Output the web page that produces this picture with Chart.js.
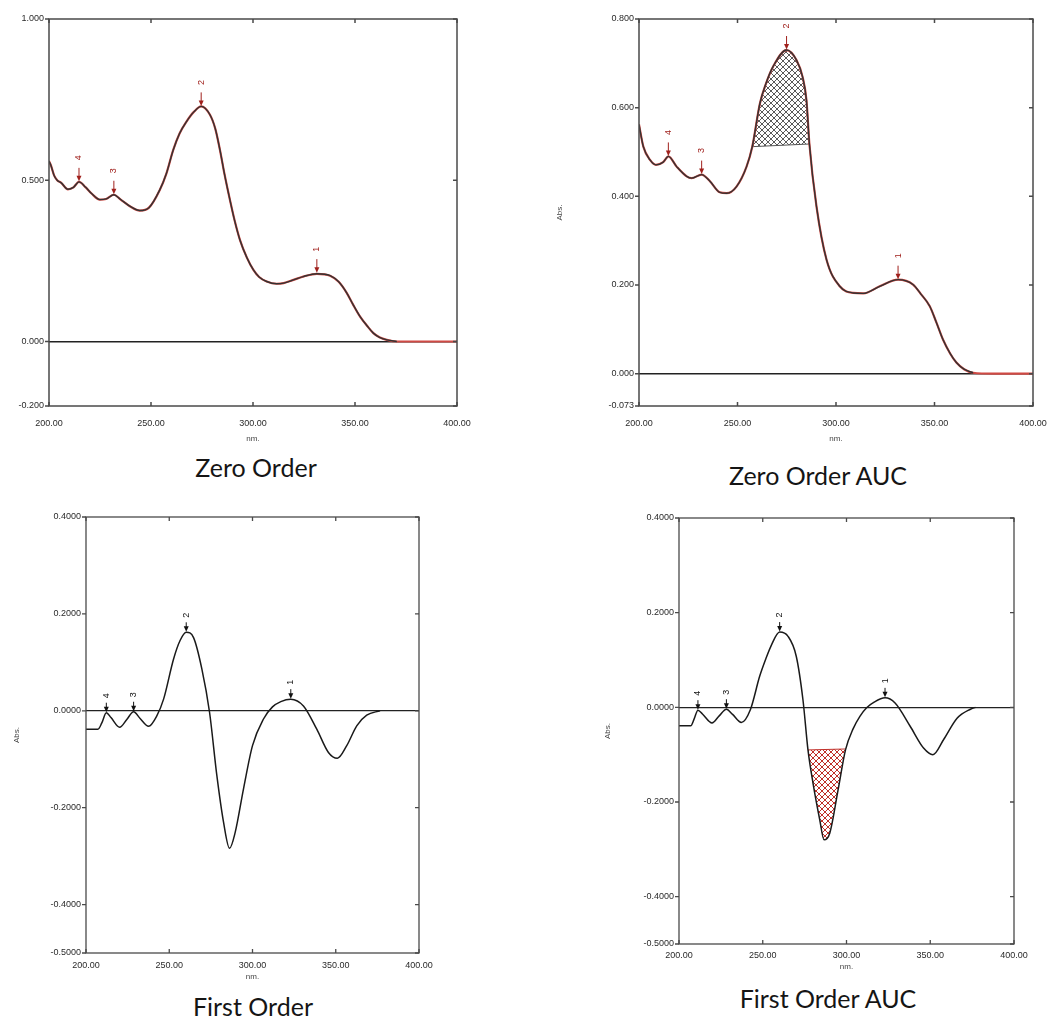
<!DOCTYPE html>
<html>
<head>
<meta charset="utf-8">
<script src="https://cdn.jsdelivr.net/npm/chart.js@4.4.0/dist/chart.umd.min.js"></script>
<style>
  body { margin: 0; background: #fff; width: 1050px; height: 1023px; position: relative; overflow: hidden; }
  .box { position: absolute; }
  .cap { position: absolute; font-family: Lato, "Open Sans", sans-serif; font-size: 25px; color: #151515;
         transform: translate(-50%, -50%); white-space: nowrap; }
</style>
</head>
<body>
<div class="box" id="b1" style="left:0px;top:7px;width:485px;height:437px"><canvas id="c1"></canvas></div>
<div class="box" id="b2" style="left:555px;top:7px;width:495px;height:437px"><canvas id="c2"></canvas></div>
<div class="box" id="b3" style="left:12px;top:505px;width:435px;height:477px"><canvas id="c3"></canvas></div>
<div class="box" id="b4" style="left:603px;top:506px;width:441px;height:466px"><canvas id="c4"></canvas></div>

<div class="cap" style="left:256px;top:467px">Zero Order</div>
<div class="cap" style="left:818px;top:475px">Zero Order AUC</div>
<div class="cap" style="left:253px;top:1006px">First Order</div>
<div class="cap" style="left:828px;top:998px">First Order AUC</div>

<script>
// axis ticks
const nmTicks = [200, 250, 300, 350, 400];
const zeroTicks = [-0.2, 0, 0.5, 1.0];
const zeroAucTicks = [-0.073, 0, 0.2, 0.4, 0.6, 0.8];
const firstTicks = [-0.5, -0.4, -0.2, 0, 0.2, 0.4];
const peakLabels = ['1', '2', '3', '4'];

// zero order spectrum
const zeroNm = [200, 201, 202.5, 204, 206, 209.3, 212, 214.7, 218, 221, 224.9, 228, 231.8, 235, 240, 244.5,
  249, 254.3, 257.5, 260.9, 264, 267.4, 271, 274.6, 278.9, 281.5, 283.8, 286, 288.7, 291, 293.6, 297, 300.2,
  303, 306.7, 311.6, 315, 319.8, 325, 331.3, 337.8, 342, 346, 349, 352.5, 356, 359, 362, 365.6, 370.5, 380, 390, 400];
const zeroAbs = [0.560, 0.545, 0.515, 0.500, 0.492, 0.472, 0.478, 0.495, 0.478, 0.458, 0.440, 0.442, 0.455, 0.441,
  0.418, 0.406, 0.415, 0.470, 0.520, 0.594, 0.645, 0.682, 0.712, 0.729, 0.703, 0.660, 0.594, 0.520, 0.439, 0.375,
  0.315, 0.260, 0.222, 0.200, 0.186, 0.179, 0.181, 0.191, 0.202, 0.210, 0.204, 0.185, 0.150, 0.115, 0.077, 0.048,
  0.026, 0.013, 0.005, 0.0, 0, 0, 0];
const zeroPeakNm = [331.3, 274.6, 231.8, 214.7];
const zeroPeakAbs = [0.212, 0.729, 0.455, 0.495];

// zero order AUC spectrum
const aucNm = [200, 202.2, 205.6, 208.6, 212.3, 214.9, 219.1, 224.2, 226.7, 231.8, 236, 241, 244.5, 249.5, 254.6,
  257.5, 261.4, 264.5, 268.1, 274.9, 280, 283, 285, 286.5, 290.1, 295.2, 301.9, 308.7, 313.8, 322.2, 331.5, 339.1,
  343, 347.6, 351, 354.3, 358, 361.1, 365, 369.6, 380, 400];
const aucAbs = [0.562, 0.512, 0.482, 0.471, 0.477, 0.490, 0.467, 0.445, 0.441, 0.449, 0.434, 0.409, 0.407, 0.422,
  0.467, 0.512, 0.610, 0.655, 0.693, 0.730, 0.707, 0.670, 0.617, 0.518, 0.377, 0.257, 0.197, 0.182, 0.181, 0.197,
  0.212, 0.201, 0.180, 0.152, 0.115, 0.077, 0.045, 0.025, 0.010, 0.002, 0, 0];
const aucChordNm = [257.5, 286.5];
const aucChordAbs = [0.512, 0.518];
const aucPeakNm = [331.5, 274.9, 231.8, 214.9];
const aucPeakAbs = [0.212, 0.730, 0.449, 0.490];

// first order spectrum
const foNm = [200, 207.2, 209.5, 212.2, 215, 220.2, 224.5, 228.6, 232.5, 237.6, 242.6, 246.6, 252.6, 256.5, 260.2,
  264.6, 269.6, 274.2, 278.6, 282.6, 286.2, 289.6, 294.6, 300, 306.6, 312, 317, 323, 330.6, 338.6, 345.6, 351, 356.6,
  362.6, 368.6, 376.6];
const foAbs = [-0.038, -0.038, -0.025, -0.004, -0.014, -0.034, -0.018, -0.002, -0.016, -0.032, -0.010, 0.024, 0.107,
  0.145, 0.162, 0.151, 0.086, -0.003, -0.134, -0.230, -0.284, -0.251, -0.161, -0.072, -0.017, 0.008, 0.019, 0.024,
  0.010, -0.038, -0.086, -0.098, -0.072, -0.031, -0.009, 0];
const foPeakNm = [323, 260.2, 228.6, 212.2];
const foPeakAbs = [0.024, 0.162, -0.002, -0.004];

// first order AUC spectrum
const faNm = [200, 207, 209, 211.3, 214, 219.7, 224, 228.3, 232, 237.2, 242.6, 248.2, 252, 255.1, 260.1, 265.1, 270,
  274, 277, 280, 284, 286.6, 290, 295, 299.4, 304, 308, 312, 316.5, 323, 329, 338, 346, 351.6, 358, 366, 374, 377];
const faAbs = [-0.039, -0.039, -0.025, -0.006, -0.014, -0.033, -0.018, -0.004, -0.015, -0.032, -0.005, 0.066, 0.104,
  0.131, 0.159, 0.150, 0.108, 0.016, -0.090, -0.160, -0.237, -0.280, -0.266, -0.174, -0.090, -0.045, -0.019, -0.001,
  0.011, 0.020, 0.009, -0.040, -0.086, -0.100, -0.068, -0.023, -0.004, 0];
const faChordNm = [277, 299.4];
const faChordAbs = [-0.090, -0.088];
const faPeakNm = [323, 260.1, 228.3, 211.3];
const faPeakAbs = [0.020, 0.159, -0.004, -0.006];

const pts = (xs, ys) => xs.map((v, i) => ({x: v, y: ys[i]}));

// cross hatch pattern for the AUC areas
function hatch(color) {
  const c = document.createElement('canvas');
  c.width = 6; c.height = 6;
  const g = c.getContext('2d');
  g.strokeStyle = color; g.lineWidth = 1;
  g.beginPath();
  g.moveTo(-1, -1); g.lineTo(7, 7);
  g.moveTo(7, -1); g.lineTo(-1, 7);
  g.stroke();
  return g.createPattern(c, 'repeat');
}

// box round the plot with small inward ticks
const frame = {
  id: 'frame',
  afterDraw(chart, args, o) {
    const {ctx, chartArea: a, scales: {x, y}} = chart;
    ctx.save();
    ctx.strokeStyle = o.color; ctx.lineWidth = o.width;
    ctx.strokeRect(a.left, a.top, a.right - a.left, a.bottom - a.top);
    ctx.beginPath();
    x.ticks.forEach(t => {
      const p = x.getPixelForValue(t.value);
      ctx.moveTo(p, a.top); ctx.lineTo(p, a.top + 4);
      ctx.moveTo(p, a.bottom); ctx.lineTo(p, a.bottom - 4);
    });
    y.ticks.forEach(t => {
      const p = y.getPixelForValue(t.value);
      ctx.moveTo(a.left - 4, p); ctx.lineTo(a.left, p);
      ctx.moveTo(a.right, p); ctx.lineTo(a.right - 4, p);
    });
    ctx.stroke();
    ctx.restore();
  }
};

// numbered peak arrows
const peaks = {
  id: 'peaks',
  afterDatasetsDraw(chart, args, o) {
    const {ctx, scales: {x, y}} = chart;
    o.nm.forEach((w, i) => {
      const px = x.getPixelForValue(w), py = y.getPixelForValue(o.abs[i]);
      ctx.save();
      ctx.strokeStyle = o.color; ctx.fillStyle = o.color; ctx.lineWidth = 1;
      ctx.beginPath(); ctx.moveTo(px, py - o.len); ctx.lineTo(px, py - 4); ctx.stroke();
      ctx.beginPath(); ctx.moveTo(px - 2.5, py - 6); ctx.lineTo(px + 2.5, py - 6); ctx.lineTo(px, py - 0.5);
      ctx.closePath(); ctx.fill();
      ctx.translate(px, py - o.off);
      ctx.rotate(-Math.PI / 2);
      ctx.font = '9px "Liberation Sans", Arial, sans-serif';
      ctx.textAlign = 'center'; ctx.textBaseline = 'middle';
      ctx.fillText(o.labels[i], 0, 0);
      ctx.restore();
    });
  }
};

function panel(id, cfg) {
  const tickFont = {family: '"Liberation Sans", Arial, sans-serif', size: 9};
  return new Chart(document.getElementById(id), {
    type: 'line',
    data: {datasets: cfg.datasets},
    options: {
      responsive: true,
      maintainAspectRatio: false,
      animation: false,
      events: [],
      layout: {padding: {top: 12, right: cfg.padRight, left: 0, bottom: 0}},
      elements: {point: {radius: 0}, line: {cubicInterpolationMode: 'monotone'}},
      plugins: {
        legend: {display: false},
        tooltip: {enabled: false},
        frame: {color: '#4a4a4a', width: cfg.frameWidth},
        peaks: cfg.peaks
      },
      scales: {
        x: {
          type: 'linear', min: 200, max: 400,
          afterBuildTicks: s => { s.ticks = nmTicks.map(v => ({value: v})); },
          afterFit: s => { s.height = cfg.xH; s.paddingLeft = s.paddingRight = s.paddingTop = s.paddingBottom = 0; },
          grid: {display: false, drawTicks: false},
          border: {display: false},
          ticks: {autoSkip: false, maxRotation: 0, padding: cfg.xPad, color: '#2a2a2a', font: tickFont,
                  callback: v => v.toFixed(2)},
          title: {display: true, text: 'nm.', color: '#444', padding: 0, font: {family: tickFont.family, size: 8}}
        },
        y: {
          type: 'linear', min: cfg.yTicks[0], max: cfg.yTicks[cfg.yTicks.length - 1],
          afterBuildTicks: s => { s.ticks = cfg.yTicks.map(v => ({value: v})); },
          afterFit: s => { s.width = cfg.yW; s.paddingLeft = s.paddingRight = s.paddingTop = s.paddingBottom = 0; },
          grid: {
            drawTicks: false,
            color: c => (c.tick && c.tick.value === 0) ? '#222' : 'rgba(0,0,0,0)',
            lineWidth: cfg.zeroWidth
          },
          border: {display: false},
          ticks: {autoSkip: false, padding: 5, color: '#2a2a2a', font: tickFont,
                  callback: v => v.toFixed(cfg.digits)},
          title: {display: cfg.abs, text: 'Abs.', color: '#444', padding: 0, font: {family: tickFont.family, size: 8}}
        }
      }
    },
    plugins: [frame, peaks]
  });
}

Chart.register(frame, peaks);

panel('c1', {
  datasets: [
    {data: pts(zeroNm, zeroAbs).filter(p => p.x <= 372), borderColor: '#333', borderWidth: 1.4},
    {data: pts(zeroNm, zeroAbs), borderColor: '#d04a44', borderWidth: 2.2}
  ],
  yTicks: zeroTicks, digits: 3, abs: false, yW: 49, xH: 38, xPad: 12, padRight: 28,
  frameWidth: 1.5, zeroWidth: 1.6,
  peaks: {nm: zeroPeakNm, abs: zeroPeakAbs, labels: peakLabels, color: '#a0201c', len: 14, off: 24}
});

panel('c2', {
  datasets: [
    {data: pts(aucNm, aucAbs).filter(p => p.x <= 372), borderColor: '#333', borderWidth: 1.4},
    {data: pts(aucNm, aucAbs), borderColor: '#d04a44', borderWidth: 2.2},
    {data: pts(aucChordNm, aucChordAbs), borderColor: '#555', borderWidth: 1,
     fill: 1, backgroundColor: hatch('#5a5a5a')}
  ],
  yTicks: zeroAucTicks, digits: 3, abs: true, yW: 84, xH: 38, xPad: 12, padRight: 17,
  frameWidth: 1.5, zeroWidth: 1.6,
  peaks: {nm: aucPeakNm, abs: aucPeakAbs, labels: peakLabels, color: '#a0201c', len: 14, off: 24}
});

panel('c3', {
  datasets: [
    {data: pts(foNm, foAbs), borderColor: '#1a1a1a', borderWidth: 1.5}
  ],
  yTicks: firstTicks, digits: 4, abs: true, yW: 74, xH: 29, xPad: 7, padRight: 28,
  frameWidth: 1.3, zeroWidth: 1.2,
  peaks: {nm: foPeakNm, abs: foPeakAbs, labels: peakLabels, color: '#111', len: 10, off: 17}
});

panel('c4', {
  datasets: [
    {data: pts(faNm, faAbs), borderColor: '#1a1a1a', borderWidth: 1.5},
    {data: pts(faChordNm, faChordAbs), borderColor: '#c0302a', borderWidth: 1,
     fill: 0, backgroundColor: hatch('#c0302a')}
  ],
  yTicks: firstTicks, digits: 4, abs: true, yW: 76, xH: 28, xPad: 6, padRight: 30,
  frameWidth: 1.3, zeroWidth: 1.2,
  peaks: {nm: faPeakNm, abs: faPeakAbs, labels: peakLabels, color: '#111', len: 10, off: 17}
});
</script>
</body>
</html>
